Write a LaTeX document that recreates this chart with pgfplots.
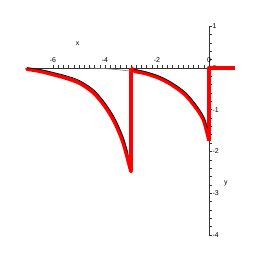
\documentclass[border=0pt]{standalone}
\usepackage{pgfplots}
\pgfplotsset{compat=1.18}
\usepackage{fontspec}
\setmainfont{Liberation Sans}
\begin{document}
\begin{tikzpicture}
\path[use as bounding box] (0,0) rectangle (262bp,262bp);
\begin{axis}[
 at={(27bp,27bp)}, anchor=south west,
 scale only axis, width=208bp, height=209bp,
 xmin=-7, xmax=1, ymin=-4, ymax=1,
 axis lines=middle,
 axis line style={-, black!80, line width=0.5pt},
 xtick={-6,-4,-2,0}, ytick={-4,-3,-2,-1,0,1},
 minor x tick num=9, minor y tick num=4,
 tick align=inside,
 major tick length=3bp, minor tick length=3bp,
 tick style={black!80, line width=0.4pt},
 hide obscured x ticks=false, hide obscured y ticks=false,
 ticklabel style={font=\scriptsize},
 /pgf/number format/assume math mode=true,
 xticklabel style={anchor=south, yshift=2bp},
 yticklabel style={anchor=west, xshift=0bp},
 xlabel={x}, ylabel={y},
 xlabel style={at={(axis cs:-5.05,0.57)}, anchor=center, font=\scriptsize},
 ylabel style={at={(axis cs:0.65,-2.76)}, anchor=center, font=\scriptsize},
 clip=false,
]
% red curve
\addplot[red, line width=3.8bp, smooth, line join=round, line cap=round] coordinates {
 (-7.0,-0.03) (-6.5,-0.08) (-5.99,-0.16) (-5.47,-0.25) (-4.96,-0.37) (-4.45,-0.59)
 (-4.0,-0.92) (-3.62,-1.31) (-3.3,-1.79) (-3.04,-2.38) (-3.0,-2.48)};
\addplot[red, line width=3.8bp, line join=round] coordinates {(-3.0,-2.48) (-3.0,0)};
\addplot[red, line width=3.8bp, smooth, line join=round] coordinates {
 (-3.0,0) (-2.85,-0.08) (-2.46,-0.13) (-1.95,-0.235) (-1.44,-0.40) (-0.92,-0.64)
 (-0.54,-0.92) (-0.22,-1.23) (-0.04,-1.62) (0,-1.75)};
\addplot[red, line width=3.8bp, line join=round] coordinates {(0,-1.75) (0,0) (1,0)};
% black approximation
\addplot[black, line width=0.7bp, smooth] coordinates {
 (-7.0,0.0) (-6.5,-0.04) (-6.0,-0.11) (-5.5,-0.19) (-5.0,-0.30) (-4.45,-0.52)
 (-4.0,-0.84) (-3.62,-1.21) (-3.3,-1.66) (-3.12,-2.05)};
\addplot[black, line width=0.7bp, smooth] coordinates {
 (-2.9,-0.03) (-2.46,-0.09) (-1.95,-0.19) (-1.44,-0.35) (-0.92,-0.58)
 (-0.54,-0.85) (-0.22,-1.15) (-0.06,-1.45)};
% gray line
\addplot[gray, line width=0.6bp, smooth] coordinates {
 (-4.6,-0.005) (-4.0,-0.02) (-3.5,-0.045) (-3.0,-0.08)};
\end{axis}
\end{tikzpicture}
\end{document}
